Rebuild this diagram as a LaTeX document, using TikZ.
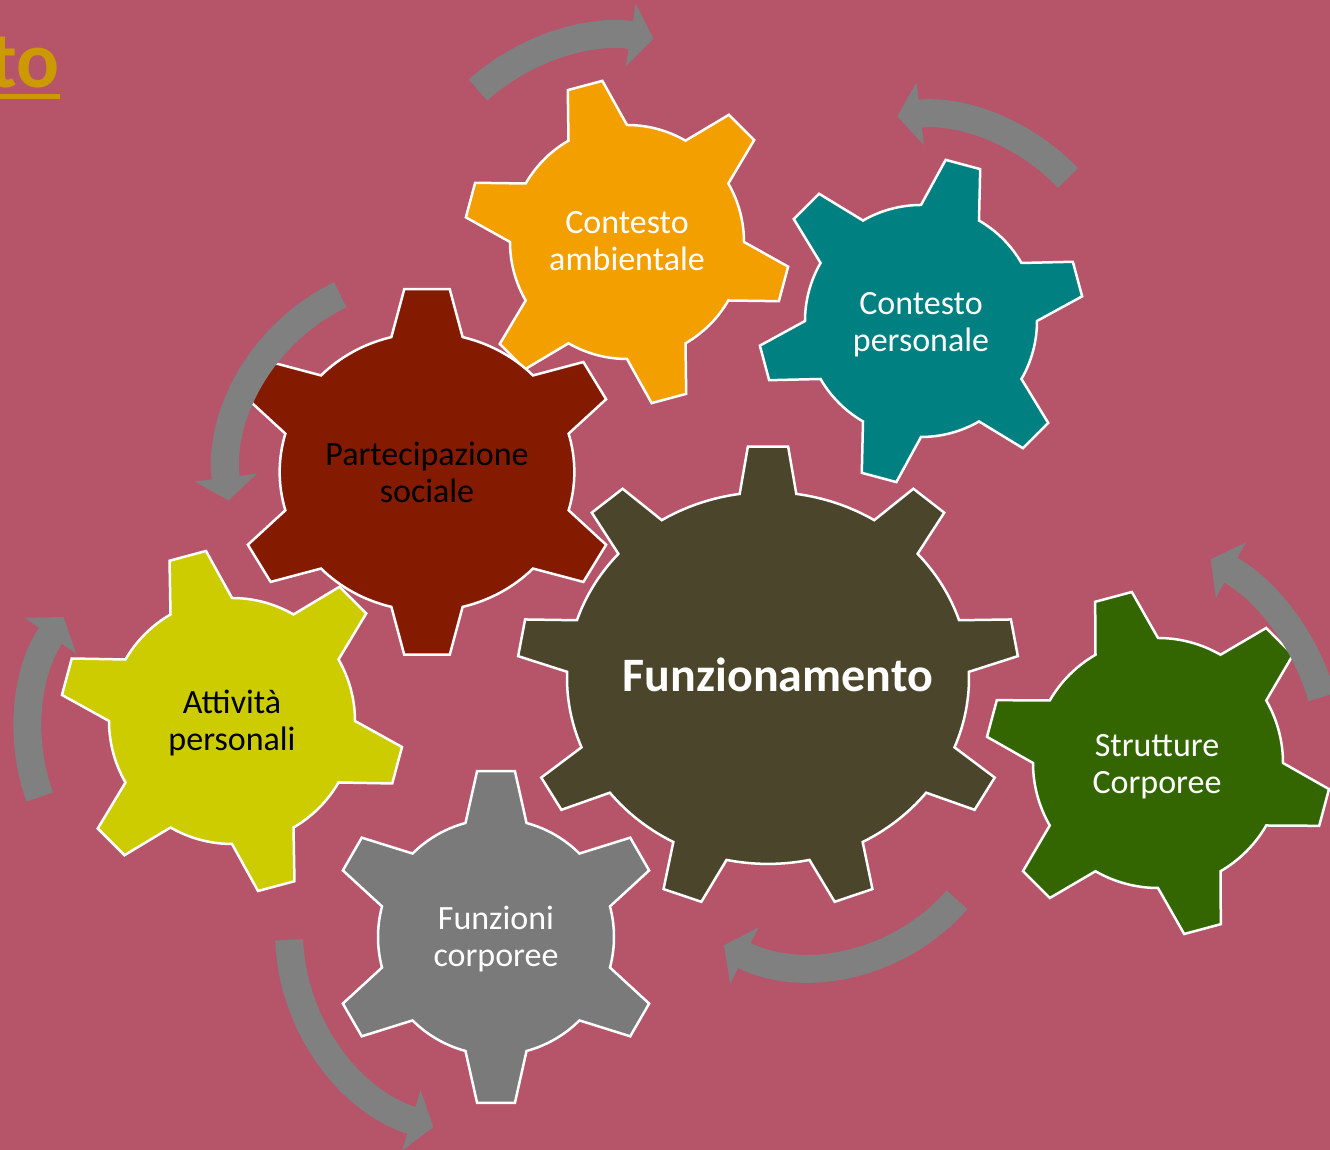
\documentclass[tikz,border=0pt]{standalone}
\usepackage{fontspec}
\setmainfont{Carlito}
\usetikzlibrary{arrows.meta}

\definecolor{bgrose}{RGB}{182,84,106}
\definecolor{cogorange}{RGB}{243,159,0}
\definecolor{cogteal}{RGB}{0,128,128}
\definecolor{cogred}{RGB}{132,27,0}
\definecolor{cogyellow}{RGB}{204,204,0}
\definecolor{coggrey}{RGB}{122,122,122}
\definecolor{coggreen}{RGB}{51,102,0}
\definecolor{cogolive}{RGB}{74,69,43}
\definecolor{spingrey}{RGB}{128,128,128}
\definecolor{titlegold}{RGB}{204,153,0}

% #1 options, #2 teeth, #3 first tooth, #4 inner r, #5 outer r, #6 base half-angle, #7 tip half-angle
\newcommand{\cog}[7]{%
  \pgfmathsetmacro{\cogstep}{360/#2}
  \draw[cog,#1] ({#3-#6}:#4)
    \foreach \k in {1,...,#2}{
      -- ({#3+(\k-1)*\cogstep-#7}:#5) -- ({#3+(\k-1)*\cogstep+#7}:#5)
      -- ({#3+(\k-1)*\cogstep+#6}:#4)
      arc[start angle={#3+(\k-1)*\cogstep+#6}, end angle={#3+\k*\cogstep-#6}, radius=#4]
    } -- cycle;}
% #1 centre, #2 radius, #3 tail angle, #4 tip angle
\newcommand{\spin}[4]{\draw[spinarrow] (#1) ++(#3:#2) arc[start angle=#3, end angle=#4, radius=#2];}

\begin{document}
\begin{tikzpicture}[x=0.5pt, y=0.5pt,
  cog/.style={draw=white, line width=1.25pt},
  cogtext/.style={align=center, font=\fontsize{17}{18.5}\selectfont},
  spinarrow/.style={draw=spingrey, line width=14pt, -{Triangle[width=31pt,length=11.5pt]}}]

\useasboundingbox (0,0) rectangle (1330,1150);
\fill[bgrose] (0,0) rectangle (1330,1150);

% title remnant
\node[anchor=base east, inner sep=0pt, text=titlegold, font=\fontsize{40}{44}\selectfont\bfseries] (ttl) at (60,1062) {to};
\draw[titlegold, line width=2.5pt] ([yshift=-4.5pt]ttl.base west) -- ([yshift=-4.5pt]ttl.base east);

% gears
\cog{fill=cogorange, shift={(627,908)}}{6}{105}{117}{163}{15}{6.3}
\cog{fill=cogteal, shift={(921,829)}}{6}{75}{116}{163}{15}{6.3}
\cog{fill=cogred, shift={(427,678)}, xscale=1.06}{6}{90}{139}{184}{14}{6.7}
\cog{fill=cogyellow, shift={(232,429)}}{6}{105}{123}{172}{15}{6.3}
\cog{fill=coggrey, shift={(496,213)}}{6}{90}{118}{167}{15}{6.5}
\cog{fill=coggreen, shift={(1158,387)}}{6}{105}{125}{173}{15}{6.3}
\cog{fill=cogolive, shift={(768,472)}, yscale=0.925}{9}{90}{201}{251}{8.1}{4.6}

\node[cogtext, text=white] (amb) at (627,909) {Contesto\\ambientale};
\node[cogtext, text=white] (pers) at (921,825) {Contesto\\personale};
\node[cogtext, text=black] (part) at (427,678) {Partecipazione\\sociale};
\node[cogtext, text=black] (att) at (232,427) {Attività\\personali};
\node[cogtext, text=white] (funz) at (496,211) {Funzioni\\corporee};
\node[cogtext, text=white] (strut) at (1157,383) {Strutture\\Corporee};
\node[text=white, font=\fontsize{24}{28}\selectfont\bfseries] (fun) at (778,475) {Funzionamento};

% turning arrows
\spin{620,900}{214}{131.6}{81}
\spin{921,832}{203}{43.6}{96.7}
\spin{427,675}{200}{115.7}{187.3}
\spin{225,420}{197}{199.9}{145}
\spin{493,218}{204}{182.2}{253}
\spin{811,378}{194}{-41.2}{-116.7}
\spin{1102,389}{229}{16.2}{61.7}

\end{tikzpicture}
\end{document}
